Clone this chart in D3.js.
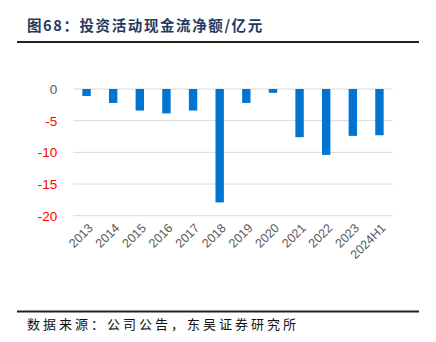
<!DOCTYPE html>
<html>
<head>
<meta charset="utf-8">
<script src="https://cdn.jsdelivr.net/npm/d3@7"></script>
<style>
  html, body { margin: 0; padding: 0; background: #fff; }
  svg { display: block; }
</style>
</head>
<body>
<svg id="chart" width="436" height="342"></svg>
<script>
// Net cash flow from investing activities (100 million CNY)
const years = ["2013","2014","2015","2016","2017","2018","2019","2020","2021","2022","2023","2024H1"];
const netInvestCash = [-1.1, -2.2, -3.4, -3.85, -3.4, -17.9, -2.2, -0.6, -7.6, -10.4, -7.4, -7.3];
const yTicks = [0, -5, -10, -15, -20];

const titleText = "图68：投资活动现金流净额/亿元";
const sourceText = "数据来源：公司公告，东吴证券研究所";

const svg = d3.select("#chart");
const cjk = "'Noto Sans CJK SC', 'Noto Sans', sans-serif";
const latin = "'Liberation Sans', Arial, sans-serif";

// Header and footer rules
svg.append("text")
  .attr("x", 27).attr("y", 31)
  .attr("font-family", cjk).attr("font-size", 14.5).attr("font-weight", "bold")
  .attr("letter-spacing", 1.6)
  .attr("fill", "#1f3a60")
  .text(titleText);
svg.append("line").attr("x1", 17).attr("x2", 419).attr("y1", 42).attr("y2", 42)
  .attr("stroke", "#222").attr("stroke-width", 2);
svg.append("line").attr("x1", 17).attr("x2", 419).attr("y1", 311.5).attr("y2", 311.5)
  .attr("stroke", "#222").attr("stroke-width", 2);
svg.append("text")
  .attr("x", 27).attr("y", 329)
  .attr("font-family", cjk).attr("font-size", 13)
  .attr("letter-spacing", 3)
  .attr("fill", "#111")
  .text(sourceText);

// Plot area
const plotLeft = 73.3, plotRight = 392.7, plotTop = 89, plotBottom = 215.7;
const x = d3.scaleBand().domain(years).range([plotLeft, plotRight]).paddingInner(0.685).paddingOuter(0.34);
const y = d3.scaleLinear().domain([0, -20]).range([plotTop, plotBottom]);

// Horizontal gridlines
svg.append("g").selectAll("line").data(yTicks).join("line")
  .attr("x1", plotLeft).attr("x2", plotRight)
  .attr("y1", d => y(d)).attr("y2", d => y(d))
  .attr("stroke", "#d9d9d9").attr("stroke-width", 1);

// Y axis labels: negatives shown in red
const yAxis = d3.axisLeft(y).tickValues(yTicks).tickSize(0).tickPadding(0).tickFormat(d3.format("d"));
const gy = svg.append("g").attr("transform", `translate(${plotLeft - 16},0)`).call(yAxis);
gy.select(".domain").remove();
gy.selectAll("text")
  .attr("font-family", latin).attr("font-size", 13.5)
  .attr("fill", d => d < 0 ? "#ff0000" : "#595959")
  .text(d => d < 0 ? "-" + Math.abs(d) : d);

// Bars
svg.append("g").selectAll("rect").data(years).join("rect")
  .attr("x", d => x(d))
  .attr("width", x.bandwidth())
  .attr("y", (d, i) => y(Math.max(0, netInvestCash[i])))
  .attr("height", (d, i) => Math.abs(y(netInvestCash[i]) - y(0)))
  .attr("fill", "#0074d0");

// X axis labels rotated
const xAxis = d3.axisBottom(x).tickSize(0).tickPadding(0);
const gx = svg.append("g").attr("transform", `translate(0,${plotBottom + 10})`).call(xAxis);
gx.select(".domain").remove();
gx.selectAll("text")
  .attr("font-family", latin).attr("font-size", 12.5)
  .attr("fill", "#595959")
  .attr("text-anchor", "end")
  .attr("dy", "0.35em")
  .attr("transform", "translate(4,0) rotate(-45)");
</script>
</body>
</html>
